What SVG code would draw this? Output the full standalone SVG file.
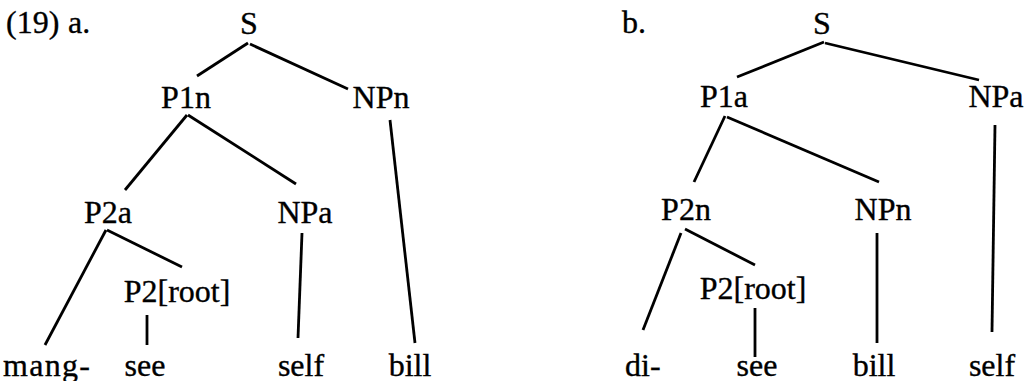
<svg xmlns="http://www.w3.org/2000/svg" width="1027" height="381" viewBox="0 0 1027 381">
<style>
text{font-family:"Liberation Serif","Times New Roman",serif;font-size:32px;fill:#000;stroke:#000;stroke-width:0.35}
.m{text-anchor:middle}
line{stroke:#000;stroke-width:2.8;stroke-linecap:butt}
</style>
<rect width="1027" height="381" fill="#fff"/>
<g id="labels">
<text x="6" y="33">(19) <tspan x="68">a.</tspan></text>
<text x="622" y="33">b.</text>
</g>
<g id="treeA">
<g id="a-S"><text class="m" x="249" y="34">S</text></g>
<g id="a-P1n"><text class="m" x="186" y="108">P1n</text></g>
<g id="a-NPn"><text class="m" x="381" y="108">NPn</text></g>
<g id="a-P2a"><text class="m" x="108" y="223">P2a</text></g>
<g id="a-NPa"><text class="m" x="305" y="223">NPa</text></g>
<g id="a-P2root"><text class="m" x="177" y="302">P2[root]</text></g>
<g id="a-mang"><text x="3" y="376" textLength="87">mang-</text></g>
<g id="a-see"><text class="m" x="145" y="376">see</text></g>
<g id="a-self"><text class="m" x="301" y="376">self</text></g>
<g id="a-bill"><text class="m" x="410" y="376">bill</text></g>
</g>
<g id="treeB">
<g id="b-S"><text class="m" x="822" y="34">S</text></g>
<g id="b-P1a"><text class="m" x="724" y="107">P1a</text></g>
<g id="b-NPa"><text class="m" x="996" y="107">NPa</text></g>
<g id="b-P2n"><text class="m" x="686" y="220">P2n</text></g>
<g id="b-NPn"><text class="m" x="883" y="220">NPn</text></g>
<g id="b-P2root"><text class="m" x="753" y="299">P2[root]</text></g>
<g id="b-di"><text x="625" y="376">di-</text></g>
<g id="b-see"><text class="m" x="757" y="376">see</text></g>
<g id="b-bill"><text class="m" x="874" y="376">bill</text></g>
<g id="b-self"><text class="m" x="992" y="376">self</text></g>
</g>
<g id="connectors">
<line x1="248" y1="43" x2="197" y2="76"/>
<line x1="250" y1="44" x2="348" y2="89"/>
<line x1="187" y1="115" x2="125" y2="190"/>
<line x1="188" y1="115" x2="296" y2="184"/>
<line x1="390" y1="120" x2="415" y2="343"/>
<line x1="106" y1="230" x2="45" y2="345"/>
<line x1="107" y1="230" x2="182" y2="267"/>
<line x1="147" y1="315" x2="147" y2="345"/>
<line x1="302" y1="233" x2="298" y2="338"/>
<line x1="824" y1="42" x2="737" y2="77"/>
<line x1="825" y1="43" x2="979" y2="80"/>
<line x1="725" y1="116" x2="694" y2="182"/>
<line x1="727" y1="117" x2="879" y2="182"/>
<line x1="995" y1="125" x2="992" y2="332"/>
<line x1="681" y1="233" x2="643" y2="330"/>
<line x1="685" y1="229" x2="755" y2="265"/>
<line x1="755" y1="308" x2="755" y2="357"/>
<line x1="877" y1="233" x2="877" y2="343"/>
</g>
</svg>
